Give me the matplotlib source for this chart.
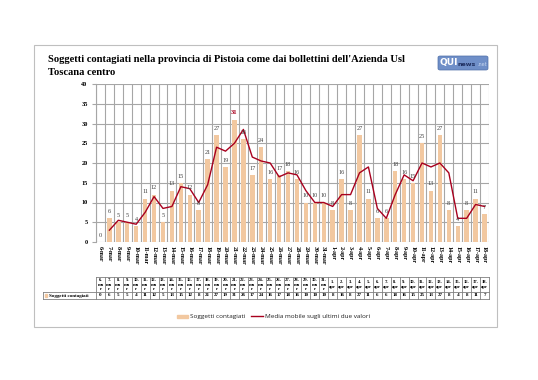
import numpy as np
import matplotlib
matplotlib.use("Agg")
import matplotlib.pyplot as plt
from matplotlib.patches import Rectangle, FancyBboxPatch

# dati: casi giornalieri e media mobile (ultimi due valori)
giorni = [f"{d}-mar" for d in range(6, 32)] + [f"{d}-apr" for d in range(1, 19)]
contagiati = [0, 6, 5, 5, 4, 11, 12, 5, 13, 15, 12, 8, 21, 27, 19, 31, 26, 17, 24, 16,
              17, 18, 16, 10, 10, 10, 8, 16, 8, 27, 11, 6, 6, 18, 16, 15, 25, 13, 27, 8,
              4, 8, 11, 7]
media_mobile = [np.nan, 3, 5.5, 5, 4.5, 7.5, 11.5, 8.5, 9, 14, 13.5, 10, 14.5, 24, 23, 25,
                28.5, 21.5, 20.5, 20, 16.5, 17.5, 17, 13, 10, 10, 9, 12, 12, 17.5, 19, 8.5,
                6, 12, 17, 15.5, 20, 19, 20, 17.5, 6, 6, 9.5, 9]

W, H = 538, 380
def fx(p): return p / W
def fy(p): return 1 - p / H

serif = "Liberation Serif"
bar_col = "#F2C8A0"
line_col = "#A8001E"
grid_col = "#A6A6A6"

fig = plt.figure(figsize=(W / 100, H / 100), dpi=100)
fig.patch.set_facecolor("white")

# cornice dell'area grafico
fig.patches.append(Rectangle((fx(34), fy(327)), fx(497) - fx(34), fy(45) - fy(327),
                             transform=fig.transFigure, fill=False, ec="#BFBFBF", lw=0.8))

fig.text(fx(48), fy(60), "Soggetti contagiati nella provincia di Pistoia come dai bollettini dell'Azienda Usl",
         family=serif, weight="bold", fontsize=7.6, va="center", ha="left")
fig.text(fx(48), fy(72.5), "Toscana centro", family=serif, weight="bold", fontsize=7.6,
         va="center", ha="left")

# logo
fig.patches.append(FancyBboxPatch((fx(438), fy(70)), fx(488) - fx(438), fy(56) - fy(70),
                                  boxstyle="round,pad=0,rounding_size=0.004",
                                  transform=fig.transFigure, fc="#6F8FC8", ec="#4E6FA8", lw=0.5))
fig.text(fx(440), fy(63), "QUI", family="DejaVu Sans", weight="bold", fontsize=6.5,
         color="white", va="center", ha="left")
fig.text(fx(458), fy(64), "news", family="DejaVu Sans", weight="bold", fontsize=4.5,
         color="#1F2F5F", va="center", ha="left")
fig.text(fx(477), fy(64.5), ".net", family="DejaVu Sans", fontsize=3.5,
         color="#C8D8F0", va="center", ha="left")

x = np.arange(len(giorni))
ax = fig.add_axes([fx(96), fy(242), fx(489) - fx(96), fy(84) - fy(242)])
ax.bar(x, contagiati, width=0.5, color=bar_col, zorder=2)
ax.plot(x, media_mobile, color=line_col, lw=1.0, zorder=3)
ax.set_xlim(-0.5, len(giorni) - 0.5)
ax.set_ylim(0, 40)
ax.set_yticks(range(0, 41, 5))
ax.set_xticks(x)
ax.set_xticklabels(giorni, rotation=270, family=serif, weight="bold", fontsize=4.3)
ax.tick_params(axis="x", length=0, pad=3)
ax.tick_params(axis="y", length=3, width=0.8, color=grid_col, pad=3, labelsize=4.5)
for lab in ax.get_yticklabels():
    lab.set_family(serif)
    lab.set_weight("bold")
ax.set_xticks(np.arange(-0.5, len(giorni), 1), minor=True)
ax.grid(True, which="minor", axis="x", color=grid_col, lw=0.8, zorder=0)
ax.grid(True, which="major", axis="y", color=grid_col, lw=0.8, zorder=0)
ax.tick_params(axis="x", which="minor", length=0)
for s in ["top", "right", "bottom"]:
    ax.spines[s].set_visible(False)
ax.spines["left"].set_color(grid_col)
ax.spines["left"].set_linewidth(0.8)

vmax = max(contagiati)
for xi, v in zip(x, contagiati):
    if v == vmax:
        ax.text(xi, v + 1.7, str(v), ha="center", va="center", family=serif,
                weight="bold", fontsize=4.8, color=line_col, zorder=4)
    else:
        ax.text(xi, v + 1.7, str(v), ha="center", va="center", family=serif,
                fontsize=4.5, color="#404040", zorder=4)

# tabella dati
tb = fig.add_axes([fx(96), fy(299), fx(489) - fx(96), fy(277) - fy(299)])
tb.set_xlim(-0.5, len(giorni) - 0.5)
tb.set_ylim(0, 22)
tb.axis("off")
col_w = (489 - 96) / len(giorni)
x_lab = -0.5 - (96 - 43) / col_w
lk = dict(color="#808080", lw=0.6, clip_on=False)
tb.plot([-0.5, len(giorni) - 0.5], [22, 22], **lk)
tb.plot([x_lab, len(giorni) - 0.5], [7, 7], **lk)
tb.plot([x_lab, len(giorni) - 0.5], [0, 0], **lk)
tb.plot([x_lab, x_lab], [0, 7], **lk)
for k in range(len(giorni) + 1):
    tb.plot([k - 0.5, k - 0.5], [0, 22], **lk)
for xi, g, v in zip(x, giorni, contagiati):
    d, m = g.split("-")
    head = f"{d}-\nma\nr" if m == "mar" else f"{d}-\napr"
    tb.text(xi, 14.5, head, ha="center", va="center", family=serif, weight="bold",
            fontsize=3.3, linespacing=1.3)
    tb.text(xi, 3.5, str(v), ha="center", va="center", family=serif, weight="bold",
            fontsize=3.6)
tb.add_patch(Rectangle((x_lab + 0.25, 2.3), 0.25, 2.4, color=bar_col, clip_on=False))
tb.text(x_lab + 0.7, 3.5, "Soggetti contagiati", ha="left", va="center", family=serif,
        weight="bold", fontsize=3.6)

# legenda
fig.patches.append(Rectangle((fx(177), fy(317.5)), fx(188) - fx(177), 3 / H,
                             transform=fig.transFigure, color=bar_col))
fig.text(fx(190), fy(316.5), "Soggetti contagiati", family="Open Sans", fontsize=4.6,
         va="center", ha="left", color="#202020")
fig.add_artist(plt.Line2D([fx(251), fx(263)], [fy(316), fy(316)], color=line_col, lw=1.0,
                          transform=fig.transFigure))
fig.text(fx(265), fy(316.5), "Media mobile sugli ultimi due valori", family="Open Sans",
         fontsize=4.6, va="center", ha="left", color="#202020")

fig.savefig("out.png", dpi=100, facecolor="white")
